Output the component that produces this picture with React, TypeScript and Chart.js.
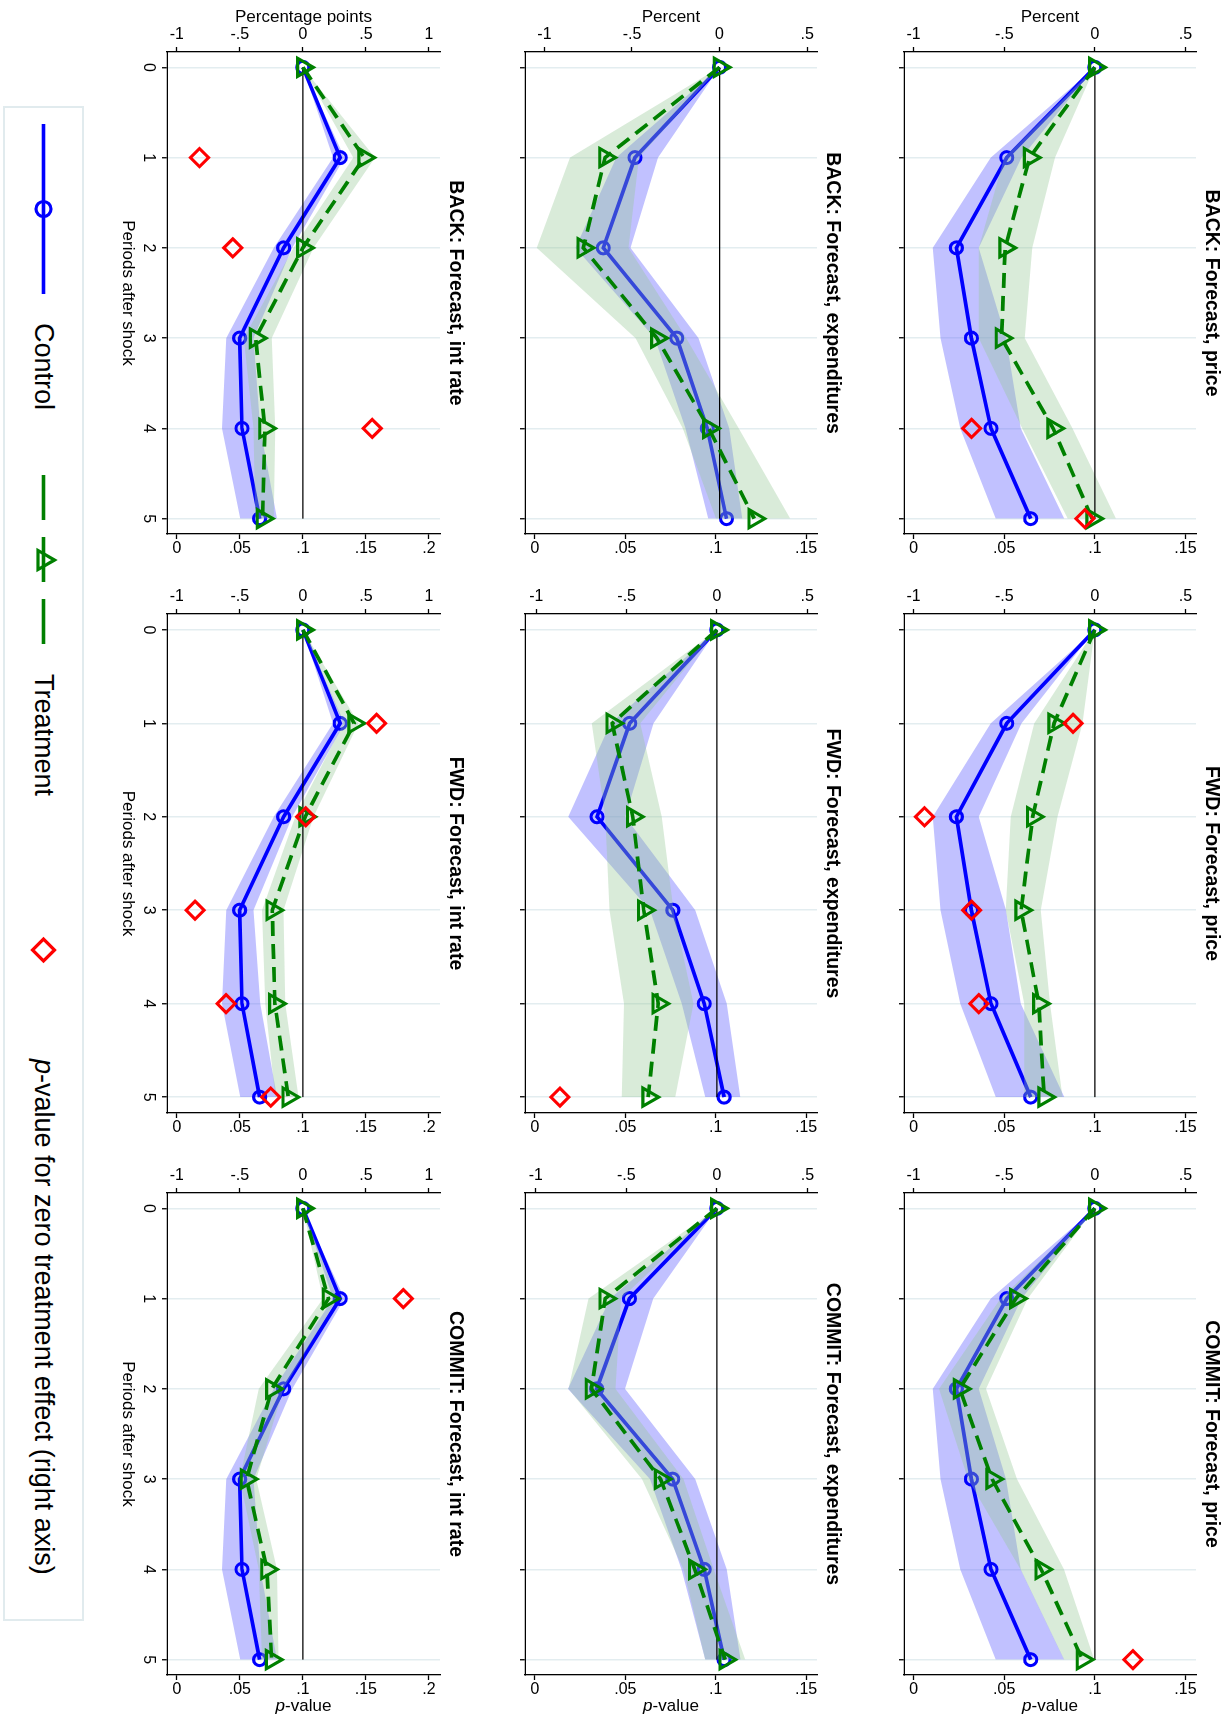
import React, { useEffect, useRef } from 'react';
import { Chart, registerables } from 'chart.js';

Chart.register(...registerables);

const FONT = '"Liberation Sans", Arial, Helvetica, sans-serif';
Chart.defaults.font.family = FONT;

// Periods after the shock (x axis)
const periods = [0, 1, 2, 3, 4, 5];

// Axis tick values
const percentTicks = [-1, -0.5, 0, 0.5];
const pointsTicks = [-1, -0.5, 0, 0.5, 1];
const pvalueTicks = [0, 0.05, 0.1, 0.15];
const pvalueTicksRate = [0, 0.05, 0.1, 0.15, 0.2];

// Control group responses (shared by all designs)
const priceControl = [0, -0.486, -0.764, -0.681, -0.573, -0.354];
const priceControlLo = [0, -0.575, -0.895, -0.851, -0.742, -0.547];
const priceControlHi = [0, -0.405, -0.64, -0.49, -0.409, -0.169];

const expControl = [0, -0.483, -0.664, -0.244, -0.07, 0.04];
const expControlLo = [0, -0.59, -0.823, -0.37, -0.195, -0.064];
const expControlHi = [0, -0.351, -0.508, -0.12, 0.055, 0.13];

const rateControl = [0, 0.296, -0.153, -0.502, -0.483, -0.343];
const rateControlLo = [0, 0.24, -0.232, -0.608, -0.642, -0.497];
const rateControlHi = [0, 0.33, -0.085, -0.391, -0.338, -0.206];

// Treatment group responses, by design
const backPriceTreat = [0, -0.36, -0.495, -0.515, -0.23, -0.015];
const backPriceTreatLo = [0, -0.5, -0.64, -0.64, -0.4, -0.15];
const backPriceTreatHi = [0, -0.22, -0.345, -0.387, -0.123, 0.116];
const fwdPriceTreat = [0, -0.225, -0.343, -0.407, -0.309, -0.28];
const fwdPriceTreatLo = [0, -0.335, -0.464, -0.492, -0.39, -0.39];
const fwdPriceTreatHi = [0, -0.068, -0.206, -0.298, -0.247, -0.179];
const commitPriceTreat = [0, -0.436, -0.746, -0.567, -0.296, -0.068];
const commitPriceTreatLo = [0, -0.52, -0.86, -0.7, -0.41, -0.17];
const commitPriceTreatHi = [0, -0.37, -0.6, -0.43, -0.17, -0.004];

const backExpTreat = [0, -0.654, -0.778, -0.358, -0.061, 0.198];
const backExpTreatLo = [0, -0.854, -1.044, -0.48, -0.21, -0.02];
const backExpTreatHi = [0, -0.46, -0.52, -0.19, 0.109, 0.404];
const fwdExpTreat = [0, -0.58, -0.466, -0.405, -0.325, -0.381];
const fwdExpTreatLo = [0, -0.693, -0.619, -0.595, -0.514, -0.527];
const fwdExpTreatHi = [0, -0.425, -0.305, -0.24, -0.129, -0.231];
const commitExpTreat = [0, -0.617, -0.693, -0.311, -0.122, 0.046];
const commitExpTreatLo = [0, -0.709, -0.82, -0.414, -0.184, -0.064];
const commitExpTreatHi = [0, -0.53, -0.56, -0.184, -0.018, 0.157];

const backRateTreat = [0, 0.486, 0.0, -0.375, -0.301, -0.32];
const backRateTreatLo = [0, 0.4, -0.074, -0.47, -0.391, -0.378];
const backRateTreatHi = [0, 0.573, 0.085, -0.246, -0.219, -0.232];
const fwdRateTreat = [0, 0.407, 0.018, -0.243, -0.222, -0.116];
const fwdRateTreatLo = [0, 0.322, -0.061, -0.325, -0.299, -0.219];
const fwdRateTreatHi = [0, 0.441, 0.085, -0.153, -0.14, -0.034];
const commitRateTreat = [0, 0.203, -0.246, -0.447, -0.285, -0.248];
const commitRateTreatLo = [0, 0.159, -0.351, -0.5, -0.351, -0.325];
const commitRateTreatHi = [0, 0.27, -0.153, -0.37, -0.206, -0.193];

// p-values for a zero treatment effect (right axis; null = not plotted)
const backPricePval = [null, null, null, null, 0.032, 0.0945];
const fwdPricePval = [null, 0.088, 0.006, 0.032, 0.036, null];
const commitPricePval = [null, null, null, null, null, 0.121];
const backExpPval = [null, null, null, null, null, null];
const fwdExpPval = [null, null, null, null, null, 0.0138];
const commitExpPval = [null, null, null, null, null, null];
const backRatePval = [null, 0.018, 0.0444, null, 0.155, null];
const fwdRatePval = [null, 0.1585, 0.1022, 0.0145, 0.0391, 0.0745];
const commitRatePval = [null, 0.1797, null, null, null, null];

// Legend labels
const legendLabels = ['Control', 'Treatment', 'p-value for zero treatment effect (right axis)'];

const BLUE = '#0000ff';
const GREEN = '#008000';
const RED = '#ff0000';
const BLUE_BAND = 'rgba(100,100,255,0.4)';
const GREEN_BAND = 'rgba(150,200,150,0.36)';
const GRID = '#e3edf0';
const NONE = 'rgba(0,0,0,0)';
const XPAD = 0.17;

// Cell geometry of the 3x3 grid (landscape layout)
const columns = [
  { left: 0, width: 570, wl: 52, wr: 36 },
  { left: 570, width: 580, wl: 44, wr: 37 },
  { left: 1150, width: 570, wl: 43, wr: 45 },
];
const rows = [
  { top: 0, height: 360, pt: 26, hx: 42 },
  { top: 360, height: 380, pt: 45, hx: 43 },
  { top: 740, height: 390, pt: 42, hx: 75 },
];

type Panel = {
  title: string;
  row: number;
  col: number;
  ctrl: number[];
  ctrlLo: number[];
  ctrlHi: number[];
  treat: number[];
  treatLo: number[];
  treatHi: number[];
  pval: (number | null)[];
  yRange: number[];
  pRange: number[];
  yTicks: number[];
  pTicks: number[];
};

const priceRange = [-1.053, 0.558];
const priceP = [-0.0053, 0.1558];
const expP = [-0.0055, 0.156];
const rateRange = [-1.078, 1.088];
const rateP = [-0.0078, 0.2088];

const panels: Panel[] = [
  { title: 'BACK: Forecast, price', row: 0, col: 0, ctrl: priceControl, ctrlLo: priceControlLo, ctrlHi: priceControlHi, treat: backPriceTreat, treatLo: backPriceTreatLo, treatHi: backPriceTreatHi, pval: backPricePval, yRange: priceRange, pRange: priceP, yTicks: percentTicks, pTicks: pvalueTicks },
  { title: 'FWD: Forecast, price', row: 0, col: 1, ctrl: priceControl, ctrlLo: priceControlLo, ctrlHi: priceControlHi, treat: fwdPriceTreat, treatLo: fwdPriceTreatLo, treatHi: fwdPriceTreatHi, pval: fwdPricePval, yRange: priceRange, pRange: priceP, yTicks: percentTicks, pTicks: pvalueTicks },
  { title: 'COMMIT: Forecast, price', row: 0, col: 2, ctrl: priceControl, ctrlLo: priceControlLo, ctrlHi: priceControlHi, treat: commitPriceTreat, treatLo: commitPriceTreatLo, treatHi: commitPriceTreatHi, pval: commitPricePval, yRange: priceRange, pRange: priceP, yTicks: percentTicks, pTicks: pvalueTicks },
  { title: 'BACK: Forecast, expenditures', row: 1, col: 0, ctrl: expControl, ctrlLo: expControlLo, ctrlHi: expControlHi, treat: backExpTreat, treatLo: backExpTreatLo, treatHi: backExpTreatHi, pval: backExpPval, yRange: [-1.111, 0.5565], pRange: expP, yTicks: percentTicks, pTicks: pvalueTicks },
  { title: 'FWD: Forecast, expenditures', row: 1, col: 1, ctrl: expControl, ctrlLo: expControlLo, ctrlHi: expControlHi, treat: fwdExpTreat, treatLo: fwdExpTreatLo, treatHi: fwdExpTreatHi, pval: fwdExpPval, yRange: [-1.063, 0.5545], pRange: expP, yTicks: percentTicks, pTicks: pvalueTicks },
  { title: 'COMMIT: Forecast, expenditures', row: 1, col: 2, ctrl: expControl, ctrlLo: expControlLo, ctrlHi: expControlHi, treat: commitExpTreat, treatLo: commitExpTreatLo, treatHi: commitExpTreatHi, pval: commitExpPval, yRange: [-1.06, 0.553], pRange: expP, yTicks: percentTicks, pTicks: pvalueTicks },
  { title: 'BACK: Forecast, int rate', row: 2, col: 0, ctrl: rateControl, ctrlLo: rateControlLo, ctrlHi: rateControlHi, treat: backRateTreat, treatLo: backRateTreatLo, treatHi: backRateTreatHi, pval: backRatePval, yRange: rateRange, pRange: rateP, yTicks: pointsTicks, pTicks: pvalueTicksRate },
  { title: 'FWD: Forecast, int rate', row: 2, col: 1, ctrl: rateControl, ctrlLo: rateControlLo, ctrlHi: rateControlHi, treat: fwdRateTreat, treatLo: fwdRateTreatLo, treatHi: fwdRateTreatHi, pval: fwdRatePval, yRange: rateRange, pRange: rateP, yTicks: pointsTicks, pTicks: pvalueTicksRate },
  { title: 'COMMIT: Forecast, int rate', row: 2, col: 2, ctrl: rateControl, ctrlLo: rateControlLo, ctrlHi: rateControlHi, treat: commitRateTreat, treatLo: commitRateTreatLo, treatHi: commitRateTreatHi, pval: commitRatePval, yRange: rateRange, pRange: rateP, yTicks: pointsTicks, pTicks: pvalueTicksRate },
];

// Stata-style number labels: .5, -.5, .05
const fmt = (v: number) => String(Math.round(v * 1000) / 1000).replace(/^(-?)0\./, '$1.');

const toPoints = (ys: (number | null)[]) =>
  periods.map((x, i) => ({ x, y: ys[i] })).filter((p) => p.y !== null && p.y !== undefined);

function drawRotated(ctx: CanvasRenderingContext2D, text: string, x: number, y: number) {
  ctx.save();
  ctx.translate(x, y);
  ctx.rotate(-Math.PI / 2);
  ctx.fillText(text, 0, 0);
  ctx.restore();
}

function PanelChart({ panel }: { panel: Panel }) {
  const ref = useRef<HTMLCanvasElement>(null);
  const col = columns[panel.col];
  const row = rows[panel.row];
  const leftTitle = panel.col === 0 ? (panel.row === 2 ? 'Percentage points' : 'Percent') : null;
  const showPTitle = panel.col === 2;
  const bottomRow = panel.row === 2;

  useEffect(() => {
    const canvas = ref.current;
    if (!canvas) return;

    const textPlugin = {
      id: 'panelText',
      afterDraw(chart: any) {
        const { ctx, chartArea: a, scales } = chart;
        ctx.save();
        ctx.fillStyle = '#000';
        ctx.textAlign = 'center';
        ctx.textBaseline = 'middle';

        ctx.font = `bold 19.5px ${FONT}`;
        ctx.fillText(panel.title, (a.left + a.right) / 2, a.top - 15);

        ctx.font = `16px ${FONT}`;
        for (const v of panel.yTicks) drawRotated(ctx, fmt(v), a.left - 17, scales.y.getPixelForValue(v));
        for (const v of panel.pTicks) drawRotated(ctx, fmt(v), a.right + 15, scales.y1.getPixelForValue(v));

        ctx.font = `17px ${FONT}`;
        const midY = (a.top + a.bottom) / 2;
        if (leftTitle) drawRotated(ctx, leftTitle, a.left - 35, midY);
        if (bottomRow) ctx.fillText('Periods after shock', (a.left + a.right) / 2, a.bottom + 39);
        if (showPTitle) {
          ctx.save();
          ctx.translate(a.right + 31, midY);
          ctx.rotate(-Math.PI / 2);
          ctx.textAlign = 'left';
          ctx.font = `italic 17px ${FONT}`;
          const wp = ctx.measureText('p').width;
          ctx.font = `17px ${FONT}`;
          const wr = ctx.measureText('-value').width;
          const x0 = -(wp + wr) / 2;
          ctx.font = `italic 17px ${FONT}`;
          ctx.fillText('p', x0, 0);
          ctx.font = `17px ${FONT}`;
          ctx.fillText('-value', x0 + wp, 0);
          ctx.restore();
        }
        ctx.restore();
      },
    };

    const band = { borderColor: NONE, borderWidth: 0, pointRadius: 0, tension: 0 };
    const chart = new Chart(canvas, {
      type: 'line',
      data: {
        datasets: [
          { ...band, data: toPoints(panel.ctrlLo), fill: false, order: 10 },
          { ...band, data: toPoints(panel.ctrlHi), fill: 0, backgroundColor: BLUE_BAND, order: 9 },
          {
            data: toPoints(panel.ctrl), borderColor: BLUE, borderWidth: 3.7, fill: false, tension: 0,
            pointStyle: 'circle', pointRadius: 6, pointBorderWidth: 3.1,
            pointBorderColor: BLUE, pointBackgroundColor: NONE, order: 8,
          },
          { ...band, data: toPoints(panel.treatLo), fill: false, order: 7 },
          { ...band, data: toPoints(panel.treatHi), fill: 3, backgroundColor: GREEN_BAND, order: 6 },
          {
            data: [{ x: periods[0], y: 0 }, { x: periods[periods.length - 1], y: 0 }],
            borderColor: '#000', borderWidth: 1.3, pointRadius: 0, fill: false, order: 5,
          },
          {
            data: toPoints(panel.treat), borderColor: GREEN, borderWidth: 3.7, borderDash: [15, 8],
            fill: false, tension: 0, pointStyle: 'triangle', pointRadius: 10.5, pointBorderWidth: 3.1,
            pointBorderColor: GREEN, pointBackgroundColor: NONE, order: 4,
          },
          {
            data: toPoints(panel.pval), yAxisID: 'y1', showLine: false, borderColor: RED,
            pointStyle: 'rectRot', pointRadius: 9, pointBorderWidth: 3.1,
            pointBorderColor: RED, pointBackgroundColor: NONE, order: 3,
          },
        ],
      } as any,
      options: {
        responsive: false,
        animation: false,
        events: [],
        layout: { padding: { top: row.pt, left: 0, right: 0, bottom: 0 }, autoPadding: false },
        plugins: { legend: { display: false }, tooltip: { enabled: false }, title: { display: false } },
        scales: {
          x: {
            type: 'linear',
            position: 'bottom',
            min: periods[0] - XPAD,
            max: periods[periods.length - 1] + XPAD,
            afterBuildTicks: (s: any) => { s.ticks = periods.map((v) => ({ value: v })); },
            afterFit: (s: any) => { s.height = row.hx; },
            grid: { color: GRID, lineWidth: 1.5, drawTicks: true, tickLength: 5, tickColor: '#000', tickWidth: 1.3 },
            border: { display: true, color: '#000', width: 1.3 },
            ticks: {
              display: bottomRow, color: '#000', padding: 4, maxRotation: 0, autoSkip: false,
              font: { family: FONT, size: 16 }, callback: (v: any) => String(v),
            },
          },
          y: {
            type: 'linear',
            position: 'left',
            min: panel.yRange[0],
            max: panel.yRange[1],
            afterBuildTicks: (s: any) => { s.ticks = panel.yTicks.map((v) => ({ value: v })); },
            afterFit: (s: any) => { s.width = col.wl; },
            grid: { drawOnChartArea: false, drawTicks: true, tickLength: 5, tickColor: '#000', tickWidth: 1.3 },
            border: { display: true, color: '#000', width: 1.3 },
            ticks: { display: false },
          },
          y1: {
            type: 'linear',
            position: 'right',
            min: panel.pRange[0],
            max: panel.pRange[1],
            afterBuildTicks: (s: any) => { s.ticks = panel.pTicks.map((v) => ({ value: v })); },
            afterFit: (s: any) => { s.width = col.wr; },
            grid: { drawOnChartArea: false, drawTicks: true, tickLength: 5, tickColor: '#000', tickWidth: 1.3 },
            border: { display: true, color: '#000', width: 1.3 },
            ticks: { display: false },
          },
        },
      } as any,
      plugins: [textPlugin],
    });
    return () => chart.destroy();
  }, []);

  return (
    <canvas
      ref={ref}
      width={col.width}
      height={row.height}
      style={{ position: 'absolute', left: col.left, top: row.top, width: col.width, height: row.height }}
    />
  );
}

function Legend() {
  const h = 77;
  const cy = h / 2;
  const textStyle: React.CSSProperties = {
    position: 'absolute', top: 0, height: h, display: 'flex', alignItems: 'center',
    fontSize: 27, fontFamily: FONT, color: '#000', whiteSpace: 'nowrap',
  };
  const tx = 452;
  const tr = 11;
  const dx = 842;
  const dr = 11;
  return (
    <div
      style={{
        position: 'absolute', left: 106, top: 1138, width: 1515, height: 81,
        border: '2px solid #e1ebee', boxSizing: 'border-box', background: '#fff',
      }}
    >
      <svg width={1511} height={h} style={{ position: 'absolute', left: 0, top: 0 }}>
        <line x1={16} y1={cy} x2={186} y2={cy} stroke={BLUE} strokeWidth={3.6} />
        <circle cx={101} cy={cy} r={7.5} fill="none" stroke={BLUE} strokeWidth={3.2} />
        <line x1={367} y1={cy} x2={536} y2={cy} stroke={GREEN} strokeWidth={3.6} strokeDasharray="45 17" />
        <polygon
          points={`${tx},${cy - tr} ${tx + tr * 0.866},${cy + tr / 2} ${tx - tr * 0.866},${cy + tr / 2}`}
          fill="none" stroke={GREEN} strokeWidth={3.2}
        />
        <polygon
          points={`${dx},${cy - dr} ${dx + dr},${cy} ${dx},${cy + dr} ${dx - dr},${cy}`}
          fill="none" stroke={RED} strokeWidth={3.2}
        />
      </svg>
      <div style={{ ...textStyle, left: 215 }}>{legendLabels[0]}</div>
      <div style={{ ...textStyle, left: 566 }}>{legendLabels[1]}</div>
      <div style={{ ...textStyle, left: 951 }}>
        <span><i>{legendLabels[2].slice(0, 1)}</i>{legendLabels[2].slice(1)}</span>
      </div>
    </div>
  );
}

export default function App() {
  useEffect(() => {
    document.body.style.margin = '0';
    document.body.style.overflow = 'hidden';
  }, []);
  return (
    <div
      style={{
        position: 'absolute', left: 0, top: 0, width: 1720, height: 1222, background: '#fff',
        transformOrigin: '0 0', transform: 'translate(1222px, 0px) rotate(90deg)', overflow: 'hidden',
      }}
    >
      {panels.map((p) => (
        <PanelChart key={p.title} panel={p} />
      ))}
      <Legend />
    </div>
  );
}
